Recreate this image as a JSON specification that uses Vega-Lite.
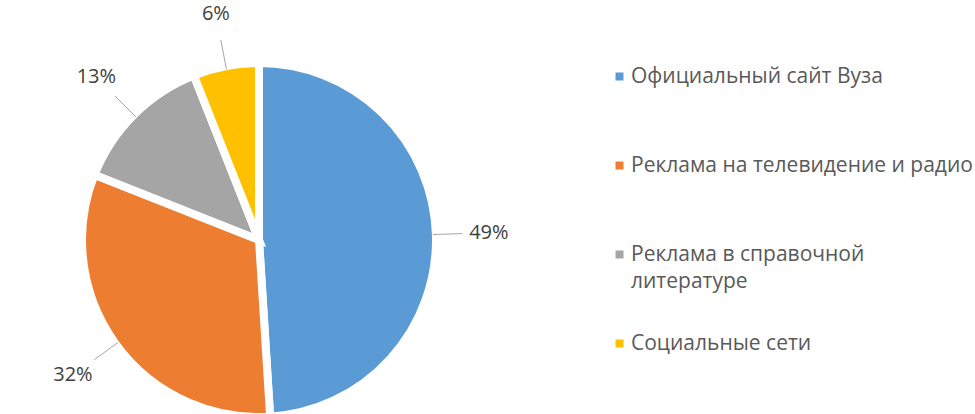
{
  "$schema": "https://vega.github.io/schema/vega-lite/v6.json",
  "width": 348,
  "height": 348,
  "autosize": {"type": "none"},
  "padding": {"left": 85, "top": 66, "right": 542, "bottom": 0},
  "background": "white",
  "view": {"stroke": null},
  "config": {"style": {"guide-label": {"lineHeight": 27}}},
  "data": {
    "values": [
      {"source": "Официальный сайт Вуза", "value": 49, "order": 1, "label": "49%"},
      {"source": "Реклама на телевидение и радио", "value": 32, "order": 2, "label": "32%"},
      {"source": "Реклама в справочной литературе", "value": 13, "order": 3, "label": "13%"},
      {"source": "Социальные сети", "value": 6, "order": 4, "label": "6%"}
    ]
  },
  "layer": [
    {
      "mark": {"type": "arc", "radius": 177, "stroke": "white", "strokeWidth": 8},
      "encoding": {
        "theta": {"field": "value", "type": "quantitative", "stack": true},
        "order": {"field": "order", "type": "quantitative"},
        "color": {
          "field": "source",
          "type": "nominal",
          "scale": {
            "domain": ["Официальный сайт Вуза", "Реклама на телевидение и радио", "Реклама в справочной литературе", "Социальные сети"],
            "range": ["#5B9BD5", "#ED7D31", "#A5A5A5", "#FFC000"]
          },
          "legend": {
            "title": null,
            "orient": "none",
            "legendX": 524,
            "legendY": 0,
            "symbolType": "square",
            "symbolSize": 64,
            "symbolStrokeWidth": 0,
            "labelFont": "Open Sans",
            "labelFontSize": 21,
            "labelColor": "#595959",
            "labelOffset": 1,
            "labelLimit": 0,
            "gridAlign": "all",
            "rowPadding": 40,
            "labelExpr": "datum.label == 'Реклама в справочной литературе' ? ['Реклама в справочной', 'литературе'] : datum.label"
          }
        }
      }
    },
    {
      "transform": [
        {"joinaggregate": [{"op": "sum", "field": "value", "as": "total"}]},
        {"window": [{"op": "sum", "field": "value", "as": "cum"}], "sort": [{"field": "order"}], "frame": [null, 0]},
        {"calculate": "2 * PI * (datum.cum - datum.value / 2) / datum.total", "as": "mid"},
        {"calculate": "1.0 * sin(datum.mid)", "as": "x1"},
        {"calculate": "1.0 * cos(datum.mid)", "as": "y1"},
        {"calculate": "1.17 * sin(datum.mid)", "as": "x2"},
        {"calculate": "1.17 * cos(datum.mid)", "as": "y2"}
      ],
      "mark": {"type": "rule", "color": "#A6A6A6", "strokeWidth": 1},
      "encoding": {
        "x": {"field": "x1", "type": "quantitative", "scale": {"domain": [-1, 1], "nice": false, "zero": false}, "axis": null},
        "y": {"field": "y1", "type": "quantitative", "scale": {"domain": [-1, 1], "nice": false, "zero": false}, "axis": null},
        "x2": {"field": "x2"},
        "y2": {"field": "y2"}
      }
    },
    {
      "mark": {"type": "text", "radius": 230, "font": "Open Sans", "fontSize": 20, "color": "#404040"},
      "encoding": {
        "theta": {"field": "value", "type": "quantitative", "stack": true},
        "order": {"field": "order", "type": "quantitative"},
        "text": {"field": "label", "type": "nominal"}
      }
    }
  ]
}
